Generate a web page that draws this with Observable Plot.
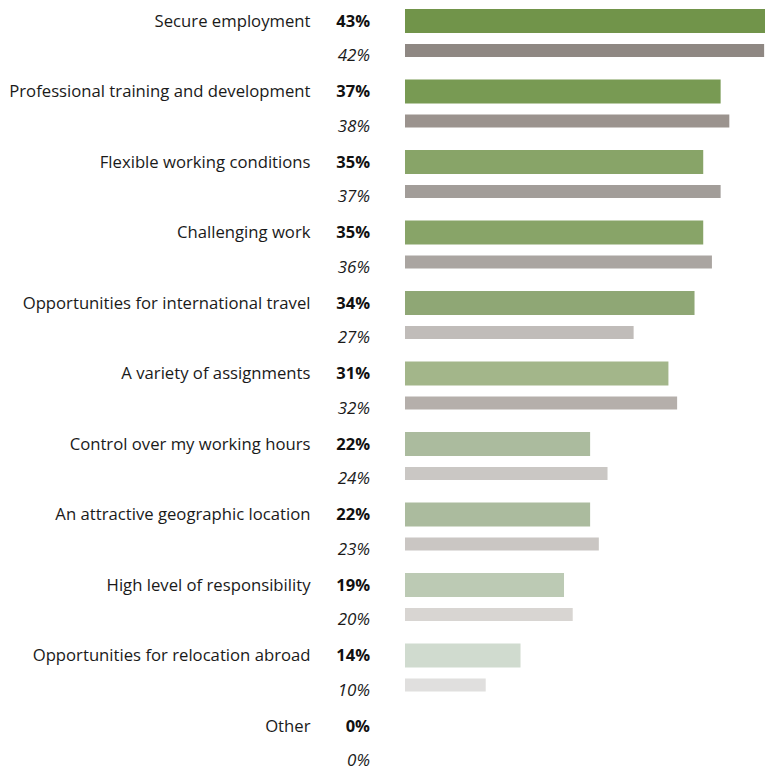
<!DOCTYPE html>
<html>
<head>
<meta charset="utf-8">
<script src="https://cdn.jsdelivr.net/npm/d3@7"></script>
<script src="https://cdn.jsdelivr.net/npm/@observablehq/plot@0.6"></script>
<style>
  html, body { margin: 0; padding: 0; background: #fff; overflow: hidden; }
  #chart svg { display: block; }
</style>
</head>
<body>
<div id="chart"></div>
<script>
const categories = [
  "Secure employment",
  "Professional training and development",
  "Flexible working conditions",
  "Challenging work",
  "Opportunities for international travel",
  "A variety of assignments",
  "Control over my working hours",
  "An attractive geographic location",
  "High level of responsibility",
  "Opportunities for relocation abroad",
  "Other"
];
const currentValues = [43, 37, 35, 35, 34, 31, 22, 22, 19, 14, 0];
const previousValues = [42, 38, 37, 36, 27, 32, 24, 23, 20, 10, 0];

const greenShades = ["#71944a", "#789a53", "#88a468", "#88a468", "#8fa775", "#a3b68a", "#abbb9e", "#abbb9e", "#bccab4", "#d0dbcf", "#e4ebe3"];
const grayShades  = ["#8f8883", "#9b938e", "#a29d99", "#aaa5a1", "#c0bcb9", "#b5afab", "#cac7c4", "#cac6c3", "#d8d5d2", "#e0dfde", "#eeeeee"];

const current = categories.map((c, i) => ({category: c, value: currentValues[i], key: "cur-" + i}));
const previous = categories.map((c, i) => ({category: c, value: previousValues[i], key: "prev-" + i}));
const colorDomain = [...current.map(d => d.key), ...previous.map(d => d.key)];
const colorRange = [...greenShades, ...grayShades];

const font = "'Open Sans', 'Noto Sans', sans-serif";

const chart = Plot.plot({
  width: 765,
  height: 775.5,
  marginLeft: 398.7,
  marginRight: 0,
  marginTop: 0,
  marginBottom: 0,
  style: {fontFamily: font, background: "#fff"},
  x: {domain: [0, 42.1], axis: null},
  y: {domain: categories, padding: 0, round: false, axis: null},
  color: {type: "ordinal", domain: colorDomain, range: colorRange},
  marks: [
    Plot.barX(current, {x: "value", y: "category", fill: "key", insetLeft: 6.3, insetTop: 9, insetBottom: 37.5}),
    Plot.barX(previous, {x: "value", y: "category", fill: "key", insetLeft: 6.3, insetTop: 44, insetBottom: 13.5}),
    Plot.text(current, {y: "category", text: "category", frameAnchor: "left", textAnchor: "end", dx: -88.7, dy: -14.3, fontSize: 16.7, fill: "#1a1a1a"}),
    Plot.text(current, {y: "category", text: d => d.value + "%", frameAnchor: "left", textAnchor: "end", dx: -29.2, dy: -14.3, fontSize: 16.5, fontWeight: "bold", fill: "#111"}),
    Plot.text(previous, {y: "category", text: d => d.value + "%", frameAnchor: "left", textAnchor: "end", dx: -29.2, dy: 19.8, fontSize: 17, fontStyle: "italic", fill: "#1a1a1a"})
  ]
});
document.getElementById("chart").appendChild(chart);
</script>
</body>
</html>
